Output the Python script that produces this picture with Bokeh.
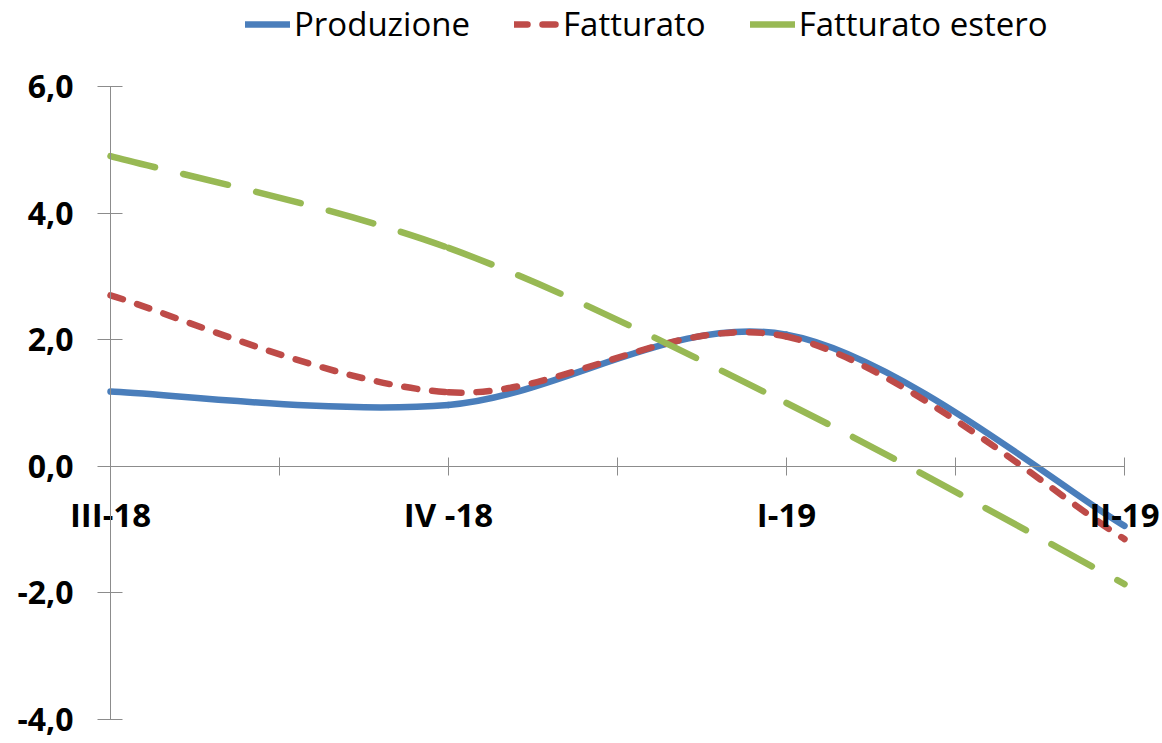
from bokeh.plotting import figure
from bokeh.models import Range1d, FixedTicker, Legend, LegendItem, ColumnDataSource
from bokeh.embed import file_html
from bokeh.resources import INLINE

# ---- data ----
quarters = ["III-18", "IV -18", "I-19", "II-19"]
produzione = [1.18, 0.97, 2.08, -0.94]
fatturato = [2.70, 1.17, 2.05, -1.15]
fatturato_estero = [4.90, 3.45, 1.00, -1.86]
y_ticks = [-4, -2, 0, 2, 4, 6]

x_pos = list(range(len(quarters)))

# ---- layout (pixels) ----
W, H = 1160, 743
X0_PX, X3_PX = 110, 1124      # pixel of first / last category
Y6_PX, YM4_PX = 86, 719       # pixel of y=6 / y=-4
xs_scale = (X3_PX - X0_PX) / (len(quarters) - 1)
ys_scale = (YM4_PX - Y6_PX) / (y_ticks[-1] - y_ticks[0])
x_lo = -X0_PX / xs_scale
x_hi = x_lo + W / xs_scale
y_hi = y_ticks[-1] + Y6_PX / ys_scale
y_lo = y_hi - H / ys_scale

p = figure(width=W, height=H, output_backend="svg", toolbar_location=None,
           x_range=Range1d(x_lo, x_hi), y_range=Range1d(y_lo, y_hi),
           min_border=0)
p.outline_line_color = None
p.xgrid.visible = False
p.ygrid.visible = False
p.background_fill_color = "white"
p.border_fill_color = "white"


def smooth_source(xs, ys):
    # Bezier control points (smoothed line rendering through the data points)
    n = len(xs)
    d = dict(x0=[], y0=[], x1=[], y1=[], cx0=[], cy0=[], cx1=[], cy1=[])
    for i in range(n - 1):
        pm = i - 1 if i > 0 else 0
        pp = i + 2 if i + 2 < n else n - 1
        d["x0"].append(xs[i]); d["y0"].append(ys[i])
        d["x1"].append(xs[i + 1]); d["y1"].append(ys[i + 1])
        d["cx0"].append(xs[i] + (xs[i + 1] - xs[pm]) / 6)
        d["cy0"].append(ys[i] + (ys[i + 1] - ys[pm]) / 6)
        d["cx1"].append(xs[i + 1] - (xs[pp] - xs[i]) / 6)
        d["cy1"].append(ys[i + 1] - (ys[pp] - ys[i]) / 6)
    return ColumnDataSource(d)


series = [
    ("Produzione", produzione, "#4A7EBB", None),
    ("Fatturato", fatturato, "#BE4B48", "13 15"),
    ("Fatturato estero", fatturato_estero, "#98B954", "46 29"),
]

items = []
for name, vals, color, dash in series:
    kw = dict(line_color=color, line_width=6.5, line_cap="round")
    if dash:
        kw["line_dash"] = dash
    r = p.bezier(x0="x0", y0="y0", x1="x1", y1="y1", cx0="cx0", cy0="cy0",
                 cx1="cx1", cy1="cy1", source=smooth_source(x_pos, vals), **kw)
    items.append(LegendItem(label=name, renderers=[r]))

legend = Legend(items=items, orientation="horizontal", location=(245, H - 46),
                label_text_font="Open Sans", label_text_font_size="33px",
                label_text_color="black", glyph_width=45, glyph_height=30,
                label_standoff=4, spacing=44, padding=0, margin=0,
                border_line_color=None, background_fill_alpha=0)
p.add_layout(legend, "center")

AX_COLOR = "#8C8C8C"

# x axis crossing at y = 0
xa = p.xaxis[0]
xa.fixed_location = 0
xa.bounds = (x_pos[0], x_pos[-1])
half_ticks = [i / 2 for i in range(2 * (len(quarters) - 1) + 1)]
xa.ticker = FixedTicker(ticks=half_ticks)
xa.major_label_overrides = {t: (quarters[int(t)] if float(t).is_integer() else "")
                            for t in half_ticks}
xa.major_label_text_font = "Open Sans"
xa.major_label_text_font_style = "bold"
xa.major_label_text_font_size = "33px"
xa.major_label_text_color = "black"
xa.major_label_standoff = 17
xa.axis_line_color = AX_COLOR
xa.major_tick_line_color = AX_COLOR
xa.major_tick_in = 9
xa.major_tick_out = 9
xa.minor_tick_line_color = None

# y axis at first category
ya = p.yaxis[0]
ya.fixed_location = x_pos[0]
ya.bounds = (y_ticks[0], y_ticks[-1])
ya.ticker = FixedTicker(ticks=y_ticks)
ya.major_label_overrides = {t: f"{t:.1f}".replace(".", ",") for t in y_ticks}
ya.major_label_text_font = "Open Sans"
ya.major_label_text_font_style = "bold"
ya.major_label_text_font_size = "32px"
ya.major_label_text_color = "black"
ya.major_label_standoff = 24
ya.axis_line_color = AX_COLOR
ya.major_tick_line_color = AX_COLOR
ya.major_tick_in = 12
ya.major_tick_out = 13
ya.minor_tick_line_color = None

open("out.html", "w").write(file_html(p, INLINE))
